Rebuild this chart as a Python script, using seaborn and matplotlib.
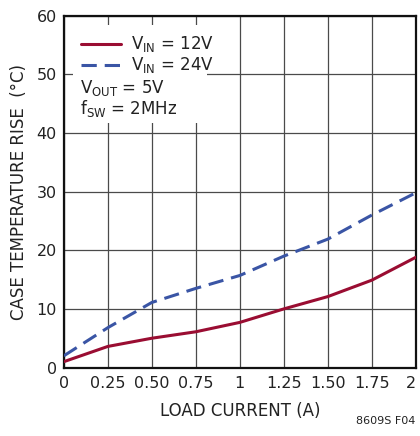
import matplotlib
matplotlib.use("Agg")
import matplotlib.pyplot as plt
import seaborn as sns
import pandas as pd
from matplotlib.patches import Rectangle

load_current = [0, 0.25, 0.5, 0.75, 1.0, 1.25, 1.5, 1.75, 2.0]
rise_12v = [1.0, 3.6, 5.0, 6.1, 7.7, 10.0, 12.1, 14.9, 18.8]
rise_24v = [2.0, 6.8, 11.1, 13.5, 15.7, 19.0, 21.9, 26.0, 29.8]
series_names = [r"V$_{\mathrm{IN}}$ = 12V", r"V$_{\mathrm{IN}}$ = 24V"]
x_ticks = [0, 0.25, 0.5, 0.75, 1, 1.25, 1.5, 1.75, 2]
x_tick_labels = ["0", "0.25", "0.50", "0.75", "1", "1.25", "1.50", "1.75", "2"]
y_ticks = [0, 10, 20, 30, 40, 50, 60]

sns.set_theme(style="white")
FONT = ["DejaVu Sans Condensed", "DejaVu Sans"]
plt.rcParams["font.family"] = FONT
plt.rcParams["mathtext.fontset"] = "custom"
plt.rcParams["mathtext.rm"] = "DejaVu Sans Condensed"
plt.rcParams["mathtext.it"] = "DejaVu Sans Condensed"
plt.rcParams["text.color"] = "#222222"

df = pd.DataFrame({
    "x": load_current * 2,
    "y": rise_12v + rise_24v,
    "series": [series_names[0]] * len(load_current) + [series_names[1]] * len(load_current),
})

fig = plt.figure(figsize=(4.2, 4.36), dpi=100)
ax = fig.add_axes([0.152, 0.157, 0.838, 0.807])

palette = {series_names[0]: "#9a0d32", series_names[1]: "#3a55a5"}
sns.lineplot(data=df, x="x", y="y", hue="series", style="series",
             palette=palette, dashes={series_names[0]: "", series_names[1]: (5, 2.6)},
             linewidth=2.2, ax=ax, zorder=3, legend=False)

ax.set_xlim(0, 2)
ax.set_ylim(0, 60)
ax.set_xticks(x_ticks)
ax.set_xticklabels(x_tick_labels)
ax.set_yticks(y_ticks)
ax.grid(True, color="#4a4a4a", linewidth=0.9)
ax.set_axisbelow(True)
for s in ax.spines.values():
    s.set_color("#111111")
    s.set_linewidth(1.6)
ax.tick_params(axis="both", labelsize=11.5, colors="#222222", length=0)
ax.tick_params(axis="x", pad=6)
ax.tick_params(axis="y", pad=5)
ax.get_xticklabels()[-1].set_horizontalalignment("right")

ax.set_xlabel("LOAD CURRENT (A)", fontsize=12, labelpad=8, color="#222222")
ax.set_ylabel("CASE TEMPERATURE RISE  (°C)", fontsize=12, labelpad=6, color="#222222")

# white box behind legend text
ax.add_patch(Rectangle((0.026, 0.695), 0.38, 0.279, transform=ax.transAxes,
                       facecolor="white", edgecolor="none", zorder=2))

# legend
ax.plot([0.048, 0.162], [0.92, 0.92], transform=ax.transAxes, color="#9a0d32", lw=2.2, zorder=4)
ax.plot([0.048, 0.162], [0.86, 0.86], transform=ax.transAxes, color="#3a55a5", lw=2.2,
        dashes=(5, 2.6), zorder=4)
ax.text(0.19, 0.92, series_names[0], transform=ax.transAxes, fontsize=12, va="center", zorder=5)
ax.text(0.19, 0.86, series_names[1], transform=ax.transAxes, fontsize=12, va="center", zorder=5)
ax.text(0.045, 0.795, r"V$_{\mathrm{OUT}}$ = 5V", transform=ax.transAxes, fontsize=12, va="center", zorder=5)
ax.text(0.045, 0.735, r"f$_{\mathrm{SW}}$ = 2MHz", transform=ax.transAxes, fontsize=12, va="center", zorder=5)

fig.text(0.988, 0.022, "8609S F04", fontsize=8, ha="right", va="bottom", color="#222222")

fig.savefig("out.png", dpi=100)
